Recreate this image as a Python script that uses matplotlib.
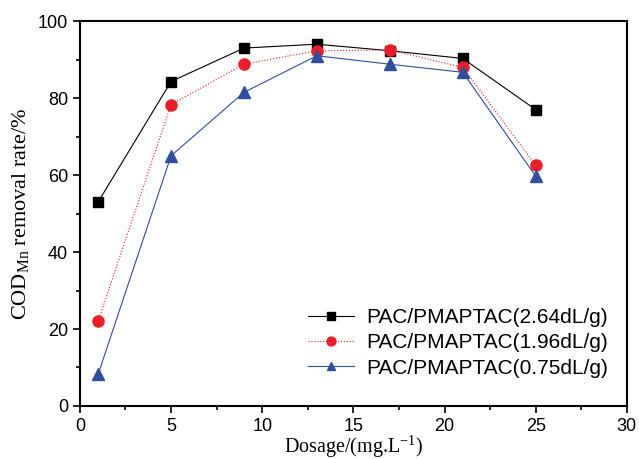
import matplotlib.pyplot as plt
from matplotlib.ticker import MultipleLocator

# Data
dosage = [1, 5, 9, 13, 17, 21, 25]
cod_264 = [53.0, 84.3, 93.0, 94.0, 92.3, 90.3, 77.0]
cod_196 = [22.0, 78.3, 88.8, 92.3, 92.5, 88.0, 62.5]
cod_075 = [8.2, 65.0, 81.5, 91.0, 88.8, 86.7, 59.7]
labels = ['PAC/PMAPTAC(2.64dL/g)', 'PAC/PMAPTAC(1.96dL/g)', 'PAC/PMAPTAC(0.75dL/g)']

plt.rcParams['font.family'] = ['Liberation Sans', 'DejaVu Sans']
plt.rcParams['mathtext.fontset'] = 'custom'
plt.rcParams['mathtext.rm'] = 'Liberation Serif'

fig = plt.figure(figsize=(6.39, 4.59), dpi=100)
ax = fig.add_axes([0.125, 0.1155, 0.856, 0.8385])

ax.plot(dosage, cod_264, color='black', marker='s', markersize=7, lw=0.8, label=labels[0])
ax.plot(dosage, cod_196, color='#ee1c25', marker='o', markersize=8, lw=0.8, ls=':', label=labels[1])
ax.plot(dosage, cod_075, color='#2f4ea0', marker='^', markersize=8, lw=0.8, label=labels[2])

ax.set_xlim(0, 30)
ax.set_ylim(0, 100)
ax.xaxis.set_major_locator(MultipleLocator(5))
ax.xaxis.set_minor_locator(MultipleLocator(2.5))
ax.yaxis.set_major_locator(MultipleLocator(20))
ax.yaxis.set_minor_locator(MultipleLocator(10))
ax.tick_params(which='major', direction='out', length=5, width=1.2, labelsize=13)
ax.tick_params(which='minor', direction='out', length=3, width=1.2)
for s in ax.spines.values():
    s.set_linewidth(1.5)

ax.set_xlabel('Dosage/(mg.L$^{-1}$)', family='Liberation Serif', fontsize=14.5, labelpad=-1)
ax.set_ylabel('COD$_{\\mathrm{Mn}}$ removal rate/%', family='Liberation Serif', fontsize=16, labelpad=4)

leg = ax.legend(loc='lower right', frameon=False, fontsize=15, bbox_to_anchor=(1.0, 0.025),
                handlelength=2.2, labelspacing=0.3, markerscale=0.8, handletextpad=0.6)

fig.savefig('out.png', dpi=100)
